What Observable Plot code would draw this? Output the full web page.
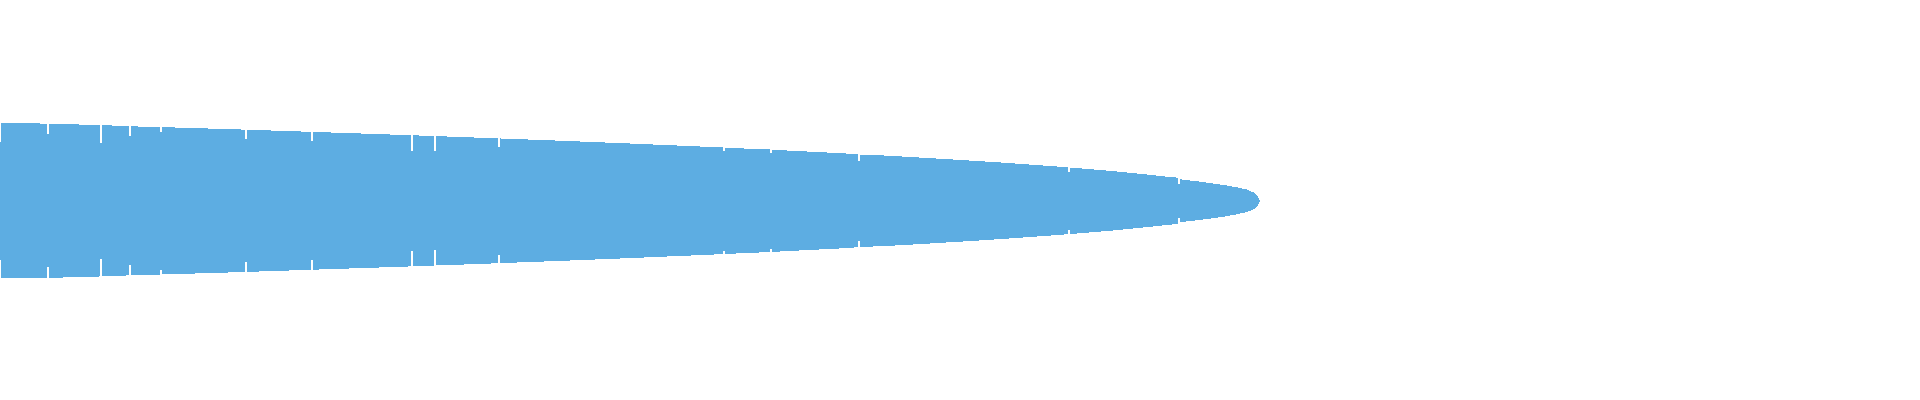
<!DOCTYPE html>
<html>
<head>
<meta charset="utf-8">
<script src="https://cdn.jsdelivr.net/npm/d3@7"></script>
<script src="https://cdn.jsdelivr.net/npm/@observablehq/plot@0.6"></script>
<style>
  html, body { margin: 0; padding: 0; background: #ffffff; }
  #chart svg { display: block; }
</style>
</head>
<body>
<div id="chart"></div>
<script>
// Profile of the mirrored shape: position along x and half-thickness
const profileX = [0, 1, 40, 79, 112, 131, 178, 211, 244, 274, 304, 334, 364, 393, 422, 450, 477, 504, 531, 557, 582, 607, 632, 655, 679, 702, 725, 746, 772, 788, 809, 829, 848, 860, 886, 904, 921, 938, 954, 971, 986, 1002, 1016, 1030, 1044, 1058, 1070, 1083, 1095, 1107, 1118, 1128, 1138, 1148, 1157, 1166, 1177, 1180, 1188, 1197, 1205, 1212, 1219, 1226, 1231, 1237, 1242, 1247, 1251, 1254, 1256, 1258, 1260];
const profileH = [39, 77.5, 77.3, 76.3, 75.3, 74.5, 73.2, 72.2, 71.2, 70.2, 69.2, 68.2, 67.2, 66.2, 65.2, 64.2, 63.2, 62.2, 61.2, 60.2, 59.2, 58.2, 57.2, 56.2, 55.2, 54.2, 53.2, 52.2, 51.2, 50.2, 49.2, 48.2, 47.2, 46.2, 45.2, 44.2, 43.2, 42.2, 41.2, 40.2, 39.2, 38.2, 37.2, 36.2, 35.2, 34.2, 33.2, 32.2, 31.2, 30.2, 29.2, 28.2, 27.2, 26.2, 25.2, 24.2, 23.2, 21.5, 20.5, 19.5, 18.5, 17.5, 16.5, 15.5, 14.5, 13.5, 12.2, 11.2, 9.5, 8.2, 6.2, 4.2, 0];

// Segment breaks (notches) and the inner half-thickness where each break stops
const notchX = [48, 101, 130, 161, 246, 312, 412, 435, 499, 724, 771, 859, 1069, 1179];
const notchInner = [66.5, 58, 64.5, 69, 61.5, 59.5, 50, 49.5, 54, 49.8, 47.8, 40.3, 28.8, 17.3];

const xDomain = [0, 1920];
const yDomain = [-199.2, 200.8];
const fillColor = "#5DADE2";

const profile = profileX.map((x, i) => ({x, h: profileH[i]}));
const notches = notchX.map((x, i) => ({x, inner: notchInner[i]}));

const chart = Plot.plot({
  width: 1920,
  height: 400,
  marginTop: 0,
  marginRight: 0,
  marginBottom: 0,
  marginLeft: 0,
  x: {domain: xDomain, axis: null},
  y: {domain: yDomain, axis: null},
  marks: [
    Plot.areaY(profile, {
      x: "x",
      y1: d => -d.h,
      y2: "h",
      fill: fillColor,
      curve: "linear",
      shapeRendering: "crispEdges"
    }),
    Plot.ruleX(notches, {
      x: "x",
      y1: "inner",
      y2: () => yDomain[1],
      stroke: "white",
      strokeWidth: 2,
      dx: -0.5,
      shapeRendering: "crispEdges"
    }),
    Plot.ruleX(notches, {
      x: "x",
      y1: () => yDomain[0],
      y2: d => -d.inner,
      stroke: "white",
      strokeWidth: 2,
      dx: -0.5,
      shapeRendering: "crispEdges"
    })
  ]
});
document.getElementById("chart").appendChild(chart);
</script>
</body>
</html>
